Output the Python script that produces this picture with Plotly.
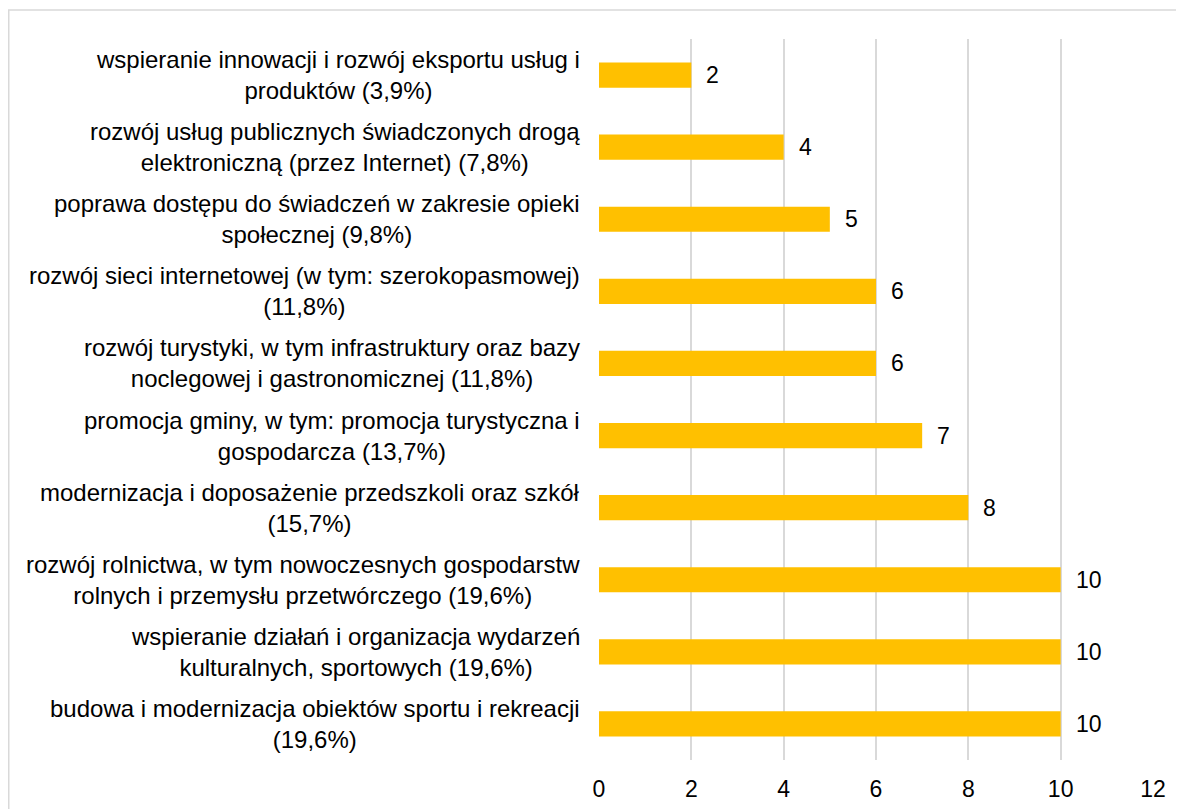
import plotly.graph_objects as go

categories = [
    "wspieranie innowacji i rozwój eksportu usług i<br>produktów (3,9%)",
    "rozwój usług publicznych świadczonych drogą<br>elektroniczną (przez Internet) (7,8%)",
    "poprawa dostępu do świadczeń w zakresie opieki<br>społecznej (9,8%)",
    "rozwój sieci internetowej (w tym: szerokopasmowej)<br>(11,8%)",
    "rozwój turystyki, w tym infrastruktury oraz bazy<br>noclegowej i gastronomicznej (11,8%)",
    "promocja gminy, w tym: promocja turystyczna i<br>gospodarcza (13,7%)",
    "modernizacja i doposażenie przedszkoli oraz szkół<br>(15,7%)",
    "rozwój rolnictwa, w tym nowoczesnych gospodarstw<br>rolnych i przemysłu przetwórczego (19,6%)",
    "wspieranie działań i organizacja wydarzeń<br>kulturalnych, sportowych (19,6%)",
    "budowa i modernizacja obiektów sportu i rekreacji<br>(19,6%)",
]
values = [2, 4, 5, 6, 6, 7, 8, 10, 10, 10]
x_ticks = [0, 2, 4, 6, 8, 10, 12]

# figure is drawn inside a page with an 8px body margin
W, H = 1176, 801
L, R, T, B = 591, 31, 31, 49
pw = W - L - R
ph = H - T - B

def px_x(p):
    return (p - L) / pw

def px_y(q):
    return (H - B - q) / ph

FONT = "Liberation Sans, Arial, sans-serif"
FS_CAT = 24
FS = 23

fig = go.Figure()
fig.add_trace(go.Bar(
    x=values,
    y=list(range(len(categories))),
    orientation="h",
    marker=dict(color="#FFC000", line=dict(width=0)),
    width=0.35,
    hoverinfo="skip",
))

annotations = []
for i, (c, v) in enumerate(zip(categories, values)):
    annotations.append(dict(
        x=px_x(574), xref="paper", y=i, yref="y",
        text=c, showarrow=False, xanchor="right", yanchor="middle",
        align="center", font=dict(family=FONT, size=FS_CAT, color="#000000"),
    ))
    annotations.append(dict(
        x=v, xref="x", y=i, yref="y",
        text=str(v), showarrow=False, xanchor="left", yanchor="middle",
        xshift=13, font=dict(family=FONT, size=FS, color="#000000"),
    ))

fig.update_layout(
    width=W, height=H,
    margin=dict(l=L, r=R, t=T, b=B, autoexpand=False),
    paper_bgcolor="white", plot_bgcolor="white",
    showlegend=False,
    annotations=annotations,
    xaxis=dict(
        range=[0, 12], tickvals=x_ticks, showgrid=True, gridcolor="#D9D9D9",
        gridwidth=1.5, zeroline=False, showline=False, ticks="",
        tickfont=dict(family=FONT, size=FS, color="#000000"),
        ticklabelstandoff=13, automargin=False,
    ),
    yaxis=dict(
        range=[len(categories) - 0.5, -0.5], showticklabels=False,
        showgrid=False, zeroline=False, showline=False, ticks="",
        automargin=False,
    ),
    shapes=[dict(
        type="rect", xref="paper", yref="paper",
        x0=px_x(0.75), x1=px_x(1250), y0=px_y(2), y1=px_y(900),
        line=dict(color="#D9D9D9", width=1.5), layer="below",
    )],
)

fig.write_html("out.html")
